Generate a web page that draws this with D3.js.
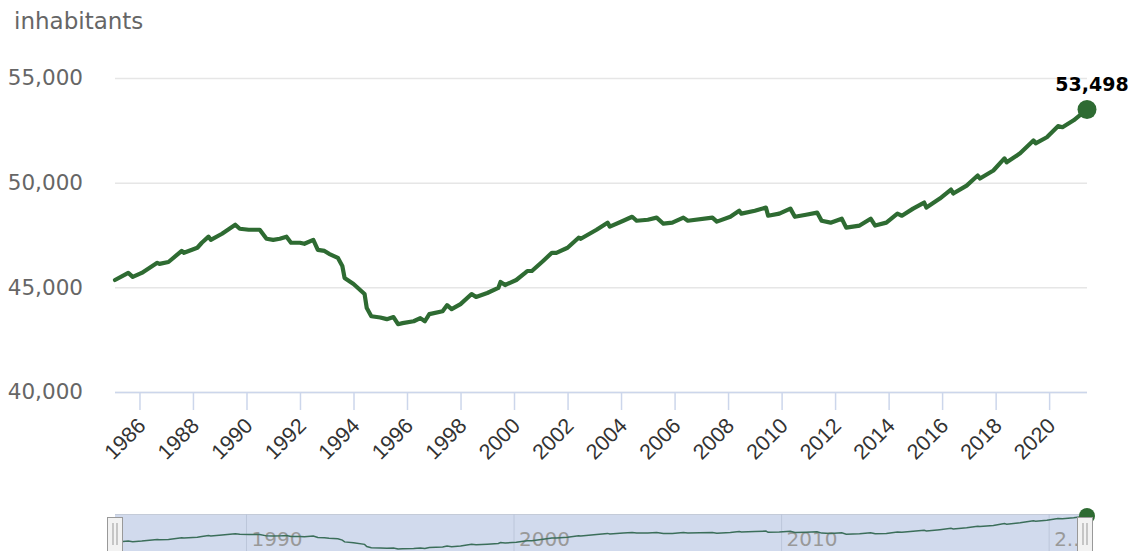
<!DOCTYPE html>
<html>
<head>
<meta charset="utf-8">
<script src="https://cdn.jsdelivr.net/npm/d3@7"></script>
<style>
  html, body { margin: 0; padding: 0; background: #fff; }
  svg { display: block; font-family: "DejaVu Sans", Verdana, sans-serif; }
</style>
</head>
<body>
<svg id="chart" width="1137" height="551"></svg>
<script>
// ---- Data ----
const months = [
  "1985-02","1985-08","1985-10","1986-02","1986-09","1986-10","1987-02","1987-08","1987-09","1988-03",
  "1988-05","1988-08","1988-09","1989-02","1989-08","1989-10","1990-02","1990-07","1990-10","1991-01",
  "1991-04","1991-07","1991-09","1992-01","1992-03","1992-07","1992-09","1992-12","1993-02","1993-06",
  "1993-08","1993-09","1994-01","1994-06","1994-07","1994-09","1995-01","1995-04","1995-07","1995-09",
  "1995-11","1996-04","1996-07","1996-09","1996-11","1997-05","1997-07","1997-09","1998-01","1998-06",
  "1998-08","1999-01","1999-06","1999-07","1999-09","2000-02","2000-06","2000-07","2000-09","2001-02",
  "2001-06","2001-08","2002-01","2002-06","2002-07","2003-02","2003-07","2003-08","2004-02","2004-06",
  "2004-08","2005-01","2005-05","2005-08","2005-12","2006-05","2006-07","2007-06","2007-08","2008-02",
  "2008-06","2008-07","2009-01","2009-06","2009-07","2009-12","2010-05","2010-07","2010-12","2011-05",
  "2011-07","2011-11","2012-04","2012-06","2012-12","2013-05","2013-07","2013-12","2014-05","2014-07",
  "2014-12","2015-05","2015-06","2015-12","2016-05","2016-06","2016-12","2017-05","2017-06","2017-12",
  "2018-05","2018-06","2018-12","2019-06","2019-07","2019-12","2020-05","2020-07","2020-12","2021-06"
];
const inhabitants = [
  45350,45690,45500,45690,46170,46120,46210,46740,46650,46890,
  47130,47420,47270,47560,47990,47800,47750,47750,47320,47270,
  47320,47420,47130,47130,47080,47270,46790,46740,46600,46410,
  46020,45450,45160,44680,44010,43620,43560,43480,43580,43240,
  43290,43380,43530,43380,43720,43860,44150,43960,44200,44680,
  44540,44730,44970,45260,45110,45350,45690,45780,45780,46260,
  46650,46650,46890,47370,47320,47750,48090,47900,48180,48370,
  48180,48230,48330,48040,48090,48330,48180,48330,48140,48370,
  48660,48520,48660,48810,48420,48520,48760,48370,48470,48570,
  48180,48090,48280,47850,47950,48280,47950,48090,48520,48420,
  48760,49050,48810,49240,49670,49480,49860,50340,50200,50580,
  51160,50970,51400,52020,51880,52170,52700,52650,52980,53498
];
const yTicks = [40000, 45000, 50000, 55000];
const xTickYears = [1986,1988,1990,1992,1994,1996,1998,2000,2002,2004,2006,2008,2010,2012,2014,2016,2018,2020];
const navTickYears = [1990, 2000, 2010, 2020];
const navTickLabels = ["1990", "2000", "2010", "2.."];
const yTitle = "inhabitants";

// ---- Build ----
const parse = d3.timeParse("%Y-%m");
const data = months.map((m, i) => ({ date: parse(m), value: inhabitants[i] }));

const svg = d3.select("#chart");
const W = 1137, H = 551;
const plot = { left: 115, right: 1087, top: 78, bottom: 392 };
const green = "#2e6b32";
const fmt = d3.format(",");

const x = d3.scaleTime()
  .domain(d3.extent(data, d => d.date))
  .range([plot.left, plot.right]);
const y = d3.scaleLinear()
  .domain([40000, 55000])
  .range([plot.bottom, plot.top]);

// Gridlines + y labels
const yAxis = d3.axisLeft(y)
  .tickValues(yTicks)
  .tickSize(-(plot.right - plot.left))
  .tickPadding(32)
  .tickFormat(fmt);
const gy = svg.append("g")
  .attr("transform", `translate(${plot.left},0)`)
  .call(yAxis);
gy.select(".domain").remove();
gy.selectAll(".tick line").attr("stroke", "#e6e6e6").attr("stroke-width", 1.5);
gy.selectAll(".tick text")
  .attr("fill", "#666")
  .style("font-size", "21.5px")
  .style("font-family", "'DejaVu Sans', sans-serif");

// y-axis title
svg.append("text")
  .attr("x", 14).attr("y", 29)
  .attr("fill", "#666")
  .style("font-size", "23px")
  .text(yTitle);

// x axis
const xAxis = d3.axisBottom(x)
  .tickValues(xTickYears.map(yr => new Date(yr, 0, 1)))
  .tickSize(18)
  .tickFormat(d3.timeFormat("%Y"));
const gx = svg.append("g")
  .attr("transform", `translate(0,${plot.bottom})`)
  .call(xAxis);
gx.select(".domain").attr("stroke", "#ccd6eb").attr("stroke-width", 1.5)
  .attr("d", `M${plot.left},0.5H${plot.right}`);
gx.selectAll(".tick line").attr("stroke", "#ccd6eb").attr("stroke-width", 1.5);
gx.selectAll(".tick text")
  .attr("fill", "#333")
  .style("font-size", "21.5px")
  .attr("text-anchor", "end")
  .attr("dy", null)
  .attr("y", null)
  .attr("transform", "translate(7,35) rotate(-45)");

// line
const line = d3.line().x(d => x(d.date)).y(d => y(d.value));
svg.append("path")
  .datum(data)
  .attr("fill", "none")
  .attr("stroke", green)
  .attr("stroke-width", 4.2)
  .attr("stroke-linejoin", "round")
  .attr("stroke-linecap", "round")
  .attr("d", line);

// last point marker + label
const last = data[data.length - 1];
svg.append("circle")
  .attr("cx", x(last.date)).attr("cy", y(last.value))
  .attr("r", 9.5).attr("fill", green);
svg.append("text")
  .attr("x", x(last.date) + 5).attr("y", y(last.value) - 18)
  .attr("text-anchor", "middle")
  .attr("fill", "#000")
  .style("font-size", "19px")
  .style("font-weight", "bold")
  .text(fmt(last.value));

// ---- Navigator ----
const nav = { top: 514, bottom: 560 };
const xn = d3.scaleTime().domain(x.domain()).range([plot.left, plot.right]);
const yn = d3.scaleLinear().domain(d3.extent(data, d => d.value)).range([549, 516]);

svg.append("rect")
  .attr("x", plot.left).attr("y", nav.top)
  .attr("width", plot.right - plot.left).attr("height", nav.bottom - nav.top)
  .attr("fill", "rgba(102,133,194,0.3)");
svg.append("line")
  .attr("x1", plot.left).attr("x2", plot.right)
  .attr("y1", nav.top + 0.5).attr("y2", nav.top + 0.5)
  .attr("stroke", "#c4cbd8").attr("stroke-width", 1);

const navG = svg.append("g");
navTickYears.forEach((yr, i) => {
  const px = xn(new Date(yr, 0, 1));
  navG.append("line")
    .attr("x1", px).attr("x2", px).attr("y1", nav.top).attr("y2", H)
    .attr("stroke", "#bcc6da").attr("stroke-width", 1);
  navG.append("text")
    .attr("x", px + 5).attr("y", 546)
    .attr("fill", "#999")
    .style("font-size", "20px")
    .text(navTickLabels[i]);
});

const navLine = d3.line().x(d => xn(d.date)).y(d => yn(d.value));
svg.append("path")
  .datum(data)
  .attr("fill", "none")
  .attr("stroke", "#3b6e5a")
  .attr("stroke-width", 1.5)
  .attr("d", navLine);

svg.append("circle")
  .attr("cx", xn(last.date)).attr("cy", yn(last.value))
  .attr("r", 8).attr("fill", green);

// handles
function handle(cx) {
  const g = svg.append("g").attr("transform", `translate(${cx},0)`);
  g.append("rect")
    .attr("x", -7.5).attr("y", 517.5).attr("width", 15).attr("height", 34)
    .attr("fill", "#f2f2f2").attr("stroke", "#999").attr("stroke-width", 1);
  g.append("line").attr("x1", -2).attr("x2", -2).attr("y1", 523).attr("y2", 545).attr("stroke", "#999");
  g.append("line").attr("x1", 2).attr("x2", 2).attr("y1", 523).attr("y2", 545).attr("stroke", "#999");
}
handle(plot.left);
handle(plot.right - 2);
</script>
</body>
</html>
